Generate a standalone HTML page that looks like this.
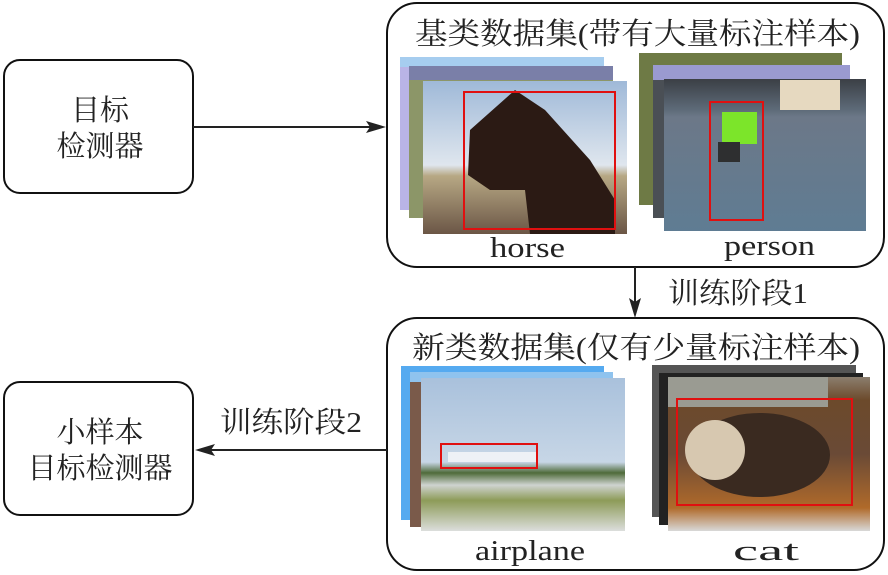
<!DOCTYPE html>
<html><head><meta charset="utf-8"><style>
html,body{margin:0;padding:0;background:#fff;}
svg{display:block;}
text{font-family:"Liberation Serif","Noto Serif CJK SC","Noto Sans CJK SC",serif;fill:#222;}
</style></head><body>
<svg width="888" height="575" viewBox="0 0 888 575" xmlns="http://www.w3.org/2000/svg">
<defs>
<linearGradient id="sky" x1="0" y1="0" x2="0" y2="1">
<stop offset="0" stop-color="#9fb9d8"/><stop offset="0.55" stop-color="#dfe6ee"/><stop offset="0.62" stop-color="#b7a884"/><stop offset="1" stop-color="#6b5646"/></linearGradient>
<linearGradient id="court" x1="0" y1="0" x2="0" y2="1">
<stop offset="0" stop-color="#3b3f45"/><stop offset="0.2" stop-color="#5d6a78"/><stop offset="0.25" stop-color="#6c7888"/><stop offset="1" stop-color="#5f7c93"/></linearGradient>
<linearGradient id="plane" x1="0" y1="0" x2="0" y2="1">
<stop offset="0" stop-color="#a9c1dc"/><stop offset="0.55" stop-color="#c7d6e6"/><stop offset="0.62" stop-color="#4f6b3a"/><stop offset="0.7" stop-color="#cfd3d0"/><stop offset="0.8" stop-color="#8d9b58"/><stop offset="1" stop-color="#dcdedc"/></linearGradient>
<linearGradient id="cat" x1="0" y1="0" x2="0" y2="1">
<stop offset="0" stop-color="#8b7e6e"/><stop offset="0.15" stop-color="#6c4a2b"/><stop offset="0.5" stop-color="#6a4a36"/><stop offset="0.85" stop-color="#b06a2a"/><stop offset="1" stop-color="#d8d8d8"/></linearGradient>
</defs>
<rect x="4" y="60" width="189" height="133" rx="16" fill="#fff" stroke="#111" stroke-width="2"/>
<text x="100" y="120" font-size="29" text-anchor="middle">目标</text>
<text x="100" y="156" font-size="29" text-anchor="middle">检测器</text>
<rect x="4" y="382" width="189" height="133" rx="16" fill="#fff" stroke="#111" stroke-width="2"/>
<text x="100" y="442" font-size="29" text-anchor="middle">小样本</text>
<text x="100" y="478" font-size="29" text-anchor="middle">目标检测器</text>
<line x1="193" y1="127" x2="372" y2="127" stroke="#222" stroke-width="2"/>
<polygon points="386,127 366,121 370,127 366,133" fill="#222"/>
<rect x="387" y="3" width="497" height="264" rx="30" fill="#fff" stroke="#111" stroke-width="2"/>
<text x="415" y="44" font-size="30" textLength="445" lengthAdjust="spacingAndGlyphs">基类数据集(带有大量标注样本)</text>
<rect x="400" y="57" width="204" height="153" fill="#b9b4e6"/>
<rect x="400" y="57" width="204" height="10" fill="#a6cdef"/>
<rect x="409" y="66" width="204" height="152" fill="#8c9668"/>
<rect x="409" y="66" width="204" height="14" fill="#7a7fa8"/>
<rect x="423" y="81" width="204" height="153" fill="url(#sky)"/>
<path d="M470 130 L515 90 L545 110 L590 160 L615 200 L615 234 L530 234 L525 190 L490 190 L468 175 Z" fill="#2b1a14"/>
<rect x="464" y="92" width="151" height="137" fill="none" stroke="#e01010" stroke-width="2"/>
<rect x="639" y="53" width="203" height="152" fill="#6e7a45"/>
<rect x="653" y="65" width="197" height="153" fill="#9a9ad0"/>
<rect x="653" y="80" width="197" height="138" fill="#4a4f55"/>
<rect x="664" y="79" width="202" height="152" fill="url(#court)"/>
<rect x="780" y="80" width="60" height="30" fill="#e6d9c0"/>
<rect x="722" y="112" width="35" height="32" fill="#7ce52a"/>
<rect x="718" y="142" width="22" height="20" fill="#2e2f30"/>
<rect x="710" y="102" width="53" height="118" fill="none" stroke="#e01010" stroke-width="2"/>
<text x="490" y="257" font-size="29" textLength="75" lengthAdjust="spacingAndGlyphs">horse</text>
<text x="724" y="255" font-size="29" textLength="91" lengthAdjust="spacingAndGlyphs">person</text>
<line x1="635" y1="267" x2="635" y2="305" stroke="#222" stroke-width="2"/>
<polygon points="635,318 629,298 635,302 641,298" fill="#222"/>
<text x="668" y="303" font-size="29" textLength="140" lengthAdjust="spacingAndGlyphs">训练阶段1</text>
<rect x="387" y="318" width="497" height="252" rx="30" fill="#fff" stroke="#111" stroke-width="2"/>
<text x="412" y="358" font-size="30" textLength="448" lengthAdjust="spacingAndGlyphs">新类数据集(仅有少量标注样本)</text>
<rect x="401" y="366" width="203" height="154" fill="#55aaf0"/>
<rect x="410" y="372" width="203" height="155" fill="#7a5a4a"/>
<rect x="410" y="372" width="203" height="10" fill="#8fc3ee"/>
<rect x="421" y="378" width="204" height="153" fill="url(#plane)"/>
<rect x="448" y="452" width="88" height="10" fill="#eef1f6"/>
<rect x="441" y="444" width="96" height="24" fill="none" stroke="#e01010" stroke-width="2"/>
<rect x="652" y="365" width="204" height="152" fill="#555"/>
<rect x="659" y="373" width="204" height="152" fill="#222"/>
<rect x="668" y="377" width="202" height="154" fill="url(#cat)"/>
<rect x="668" y="377" width="160" height="30" fill="#9a9b92"/>
<ellipse cx="760" cy="455" rx="70" ry="42" fill="#3a2a20"/>
<ellipse cx="715" cy="450" rx="30" ry="30" fill="#d7c8b0"/>
<rect x="677" y="399" width="175" height="106" fill="none" stroke="#e01010" stroke-width="2"/>
<text x="475" y="560" font-size="29" textLength="110" lengthAdjust="spacingAndGlyphs">airplane</text>
<text x="733" y="560" font-size="29" textLength="66" lengthAdjust="spacingAndGlyphs">cat</text>
<line x1="387" y1="450" x2="208" y2="450" stroke="#222" stroke-width="2"/>
<polygon points="195,450 215,444 211,450 215,456" fill="#222"/>
<text x="220" y="432" font-size="29" textLength="142" lengthAdjust="spacingAndGlyphs">训练阶段2</text>
</svg>
</body></html>
